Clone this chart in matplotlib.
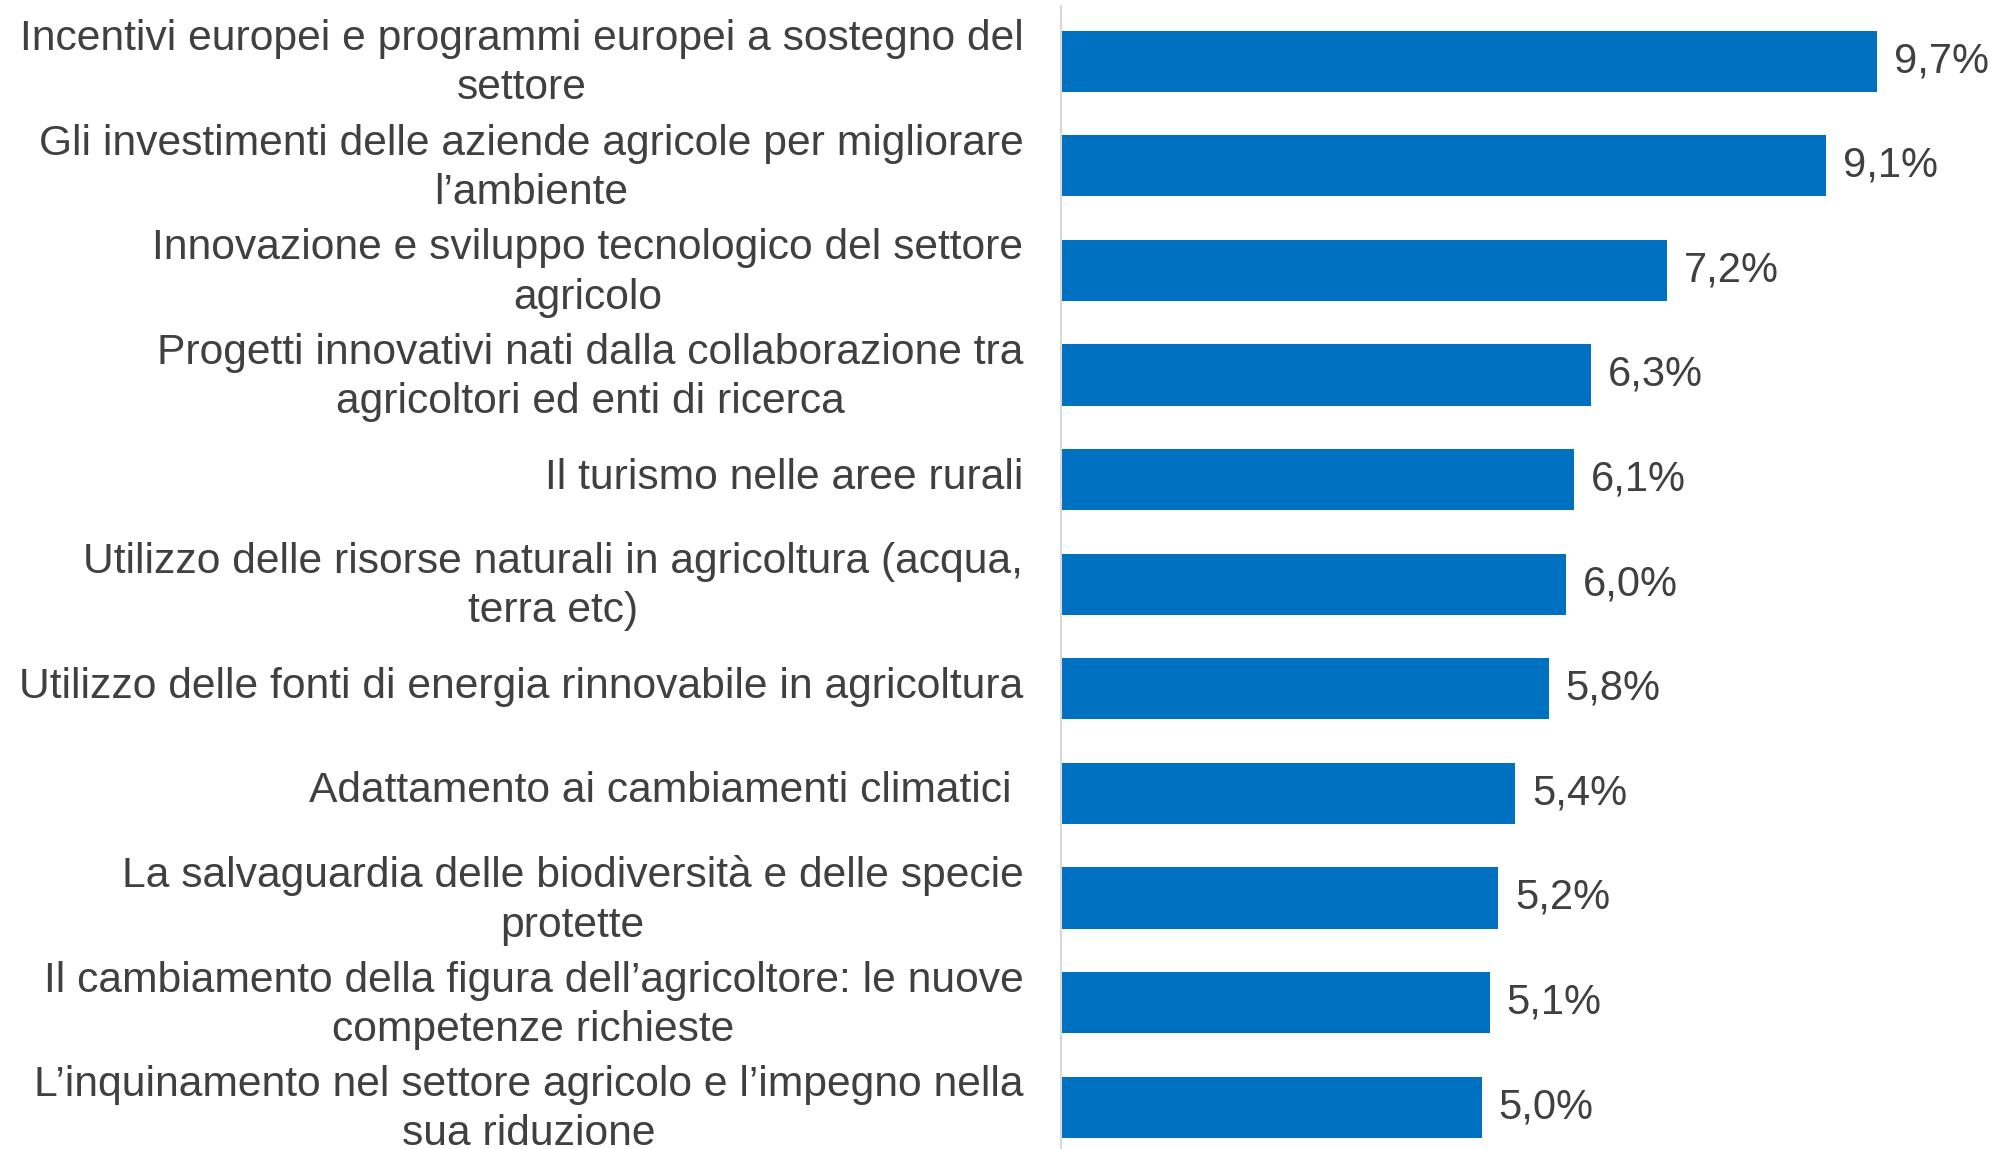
import numpy as np
import matplotlib.pyplot as plt
import matplotlib.transforms as mtransforms

plt.rcParams['font.family'] = ['Liberation Sans', 'DejaVu Sans']

# temi (dall'alto verso il basso) e quota percentuale
temi = [
    "Incentivi europei e programmi europei a sostegno del\nsettore",
    "Gli investimenti delle aziende agricole per migliorare\nl’ambiente",
    "Innovazione e sviluppo tecnologico del settore\nagricolo",
    "Progetti innovativi nati dalla collaborazione tra\nagricoltori ed enti di ricerca",
    "Il turismo nelle aree rurali",
    "Utilizzo delle risorse naturali in agricoltura (acqua,\nterra etc)",
    "Utilizzo delle fonti di energia rinnovabile in agricoltura",
    "Adattamento ai cambiamenti climatici ",
    "La salvaguardia delle biodiversità e delle specie\nprotette",
    "Il cambiamento della figura dell’agricoltore: le nuove\ncompetenze richieste",
    "L’inquinamento nel settore agricolo e l’impegno nella\nsua riduzione",
]
quote = [9.7, 9.1, 7.2, 6.3, 6.1, 6.0, 5.8, 5.4, 5.2, 5.1, 5.0]

testo = '#404040'
blu = '#0070C0'

fig = plt.figure(figsize=(19.98, 11.49), dpi=100)
ax = fig.add_axes([0.531, 0.0, 0.469, 0.995])

y = np.arange(len(temi))
ax.barh(y, quote, height=0.585, color=blu)

for yi, v in zip(y, quote):
    ax.text(v + 0.2, yi, f"{v:.1f}".replace('.', ',') + '%',
            va='center', ha='left', fontsize=30, color=testo)

ax.set_yticks(y)
ax.set_yticklabels(temi, fontsize=30.7, color=testo, ha='right',
                   multialignment='center', linespacing=1.3)
ax.tick_params(axis='y', length=0, pad=27)

# alza leggermente le etichette dei temi
su = mtransforms.ScaledTranslation(0, 0.065, fig.dpi_scale_trans)
for lab in ax.get_yticklabels():
    lab.set_transform(lab.get_transform() + su)

ax.set_ylim(10.40, -0.53)
ax.set_xlim(0, 11.14)

ax.set_xticks([])
for s in ['top', 'right', 'bottom']:
    ax.spines[s].set_visible(False)
ax.spines['left'].set_color('#D9D9D9')
ax.spines['left'].set_linewidth(1.5)

fig.savefig('out.png', dpi=100)
